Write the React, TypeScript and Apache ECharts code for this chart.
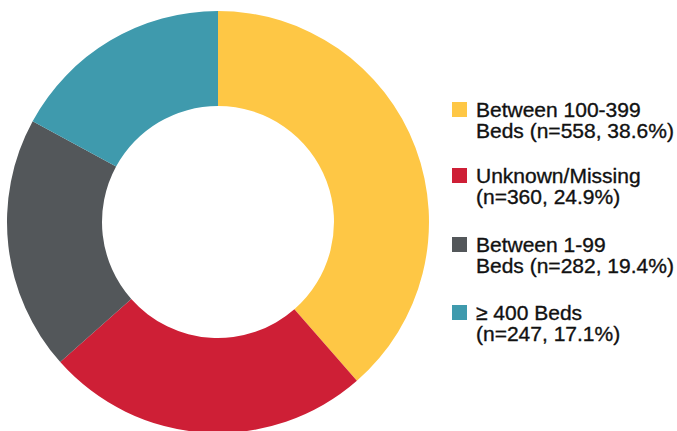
import React, { useEffect, useRef } from "react";
import * as echarts from "echarts";

const categories = [
  "Between 100-399 Beds",
  "Unknown/Missing",
  "Between 1-99 Beds",
  "≥ 400 Beds",
];
const counts = [558, 360, 282, 247];
const percents = ["38.6%", "24.9%", "19.4%", "17.1%"];
const legendLines = [
  ["Between 100-399", "Beds (n=558, 38.6%)"],
  ["Unknown/Missing", "(n=360, 24.9%)"],
  ["Between 1-99", "Beds (n=282, 19.4%)"],
  ["≥ 400 Beds", "(n=247, 17.1%)"],
];
const colors = ["#FEC745", "#CE1F36", "#53575A", "#3F9AAD"];

export default function App() {
  const ref = useRef<HTMLDivElement>(null);
  useEffect(() => {
    if (!ref.current) return;
    const chart = echarts.init(ref.current, null, { renderer: "svg" });
    const legendTop = [102, 168, 237, 305];
    const graphics: any[] = [];
    categories.forEach((c, i) => {
      graphics.push({
        type: "rect",
        shape: { x: 452, y: legendTop[i], width: 15, height: 15 },
        style: { fill: colors[i] },
      });
      graphics.push({
        type: "text",
        x: 476,
        y: legendTop[i] - 3,
        style: {
          text: legendLines[i].join("\n"),
          font: "21px 'Liberation Sans', Arial, sans-serif",
          lineHeight: 21,
          fill: "#111111",
          stroke: "#111111",
          lineWidth: 0.35,
          verticalAlign: "top",
          align: "left",
        },
      });
    });
    chart.setOption({
      animation: false,
      backgroundColor: "#ffffff",
      color: colors,
      graphic: graphics,
      series: [
        {
          type: "pie",
          center: [218, 222],
          radius: [116, 211],
          startAngle: 90,
          clockwise: true,
          label: { show: false },
          labelLine: { show: false },
          emphasis: { disabled: true },
          itemStyle: { borderWidth: 0 },
          data: categories.map((c, i) => ({
            name: c + " (n=" + counts[i] + ", " + percents[i] + ")",
            value: counts[i],
          })),
        },
      ],
    });
    return () => chart.dispose();
  }, []);
  return (
    <div
      ref={ref}
      style={{ position: "fixed", left: 0, top: 0, width: 677, height: 431 }}
    />
  );
}
